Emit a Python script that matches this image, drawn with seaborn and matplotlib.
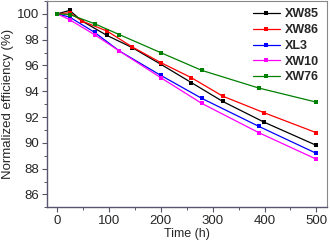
import matplotlib
matplotlib.use("Agg")
import matplotlib.pyplot as plt
from matplotlib.ticker import MultipleLocator
import seaborn as sns
import pandas as pd

# two measurement schedules
time_a = [0, 24, 48, 96, 145, 200, 259, 319, 399, 500]
time_b = [0, 24, 72, 120, 200, 279, 389, 500]

xw85 = [100.0, 100.27, 99.44, 98.33, 97.38, 96.09, 94.67, 93.22, 91.61, 89.81]
xw86 = [100.0, 100.09, 99.44, 98.67, 97.43, 96.22, 95.05, 93.63, 92.34, 90.79]
xl3 = [100.0, 99.75, 98.57, 97.12, 95.23, 93.45, 91.28, 89.19]
xw10 = [100.0, 99.55, 98.39, 97.12, 95.05, 93.06, 90.79, 88.74]
xw76 = [100.0, 99.95, 99.24, 98.39, 96.99, 95.62, 94.25, 93.16]

series = ["XW85", "XW86", "XL3", "XW10", "XW76"]
colors = ["#000000", "#ff0000", "#0000ff", "#ff00ff", "#008000"]

frames = []
for name, t, v in [("XW85", time_a, xw85), ("XW86", time_a, xw86),
                   ("XL3", time_b, xl3), ("XW10", time_b, xw10),
                   ("XW76", time_b, xw76)]:
    frames.append(pd.DataFrame({"time": t, "eff": v, "sample": name}))
df = pd.concat(frames, ignore_index=True)

sns.set_style("ticks")
plt.rcParams["font.family"] = ["Liberation Sans", "DejaVu Sans"]

fig = plt.figure(figsize=(3.3, 2.44), dpi=100)
ax = fig.add_axes([0.142, 0.15, 0.848, 0.846])

sns.lineplot(data=df, x="time", y="eff", hue="sample", hue_order=series,
             palette=colors, marker="s", markersize=3, markeredgewidth=0,
             linewidth=0.9, sort=False, ax=ax)

ax.set_xlim(-20, 520)
ax.set_ylim(85, 101)
ax.xaxis.set_major_locator(MultipleLocator(100))
ax.xaxis.set_minor_locator(MultipleLocator(50))
ax.yaxis.set_major_locator(MultipleLocator(2))
ax.yaxis.set_minor_locator(MultipleLocator(1))
ax.tick_params(which="major", direction="out", length=3.5, width=0.8,
               labelsize=9.5, pad=2, color="#555566")
ax.tick_params(which="minor", direction="out", length=2, width=0.7,
               color="#555566")
ax.set_xlabel("Time (h)", fontsize=9, labelpad=1)
ax.set_ylabel("Normalized efficiency (%)", fontsize=9.5, labelpad=2)

for side in ["left", "bottom"]:
    ax.spines[side].set_color("#555570")
    ax.spines[side].set_linewidth(1.0)
for side in ["top", "right"]:
    ax.spines[side].set_visible(True)
    ax.spines[side].set_color("#888888")
    ax.spines[side].set_linewidth(0.8)

leg = ax.legend(loc="upper right", frameon=False,
                prop={"weight": "bold", "size": 9}, handlelength=2.2,
                handletextpad=0.4, labelspacing=0.3,
                borderaxespad=0.2)

fig.savefig("out.png", dpi=100)
